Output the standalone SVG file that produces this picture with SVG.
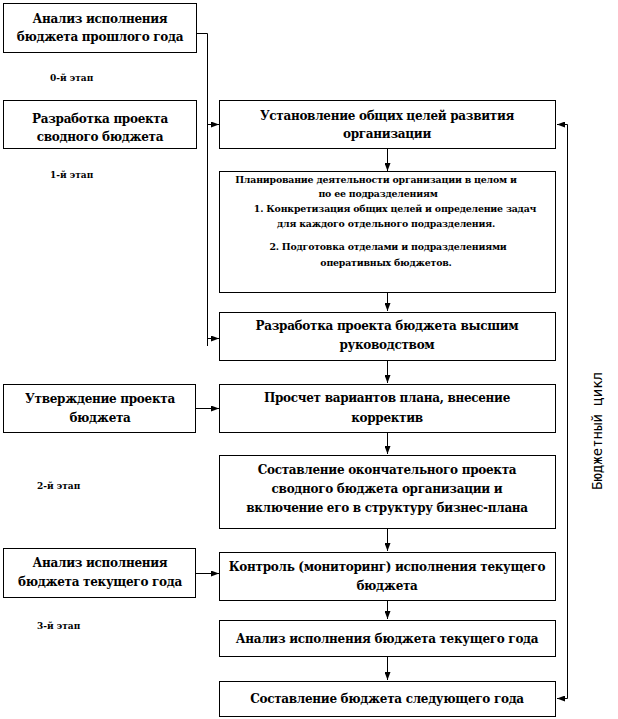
<svg xmlns="http://www.w3.org/2000/svg" width="618" height="719" viewBox="0 0 618 719">
<style>
.box{fill:#fff;stroke:#000;stroke-width:1}
.t{font-family:"DejaVu Serif",serif;font-weight:bold;font-size:12px;fill:#000;text-anchor:middle;letter-spacing:-0.3px}
.s{font-family:"DejaVu Serif",serif;font-weight:bold;font-size:9.4px;fill:#000;text-anchor:middle;letter-spacing:-0.2px}
.st{font-family:"DejaVu Serif",serif;font-weight:bold;font-size:9px;fill:#000}
.c{fill:none;stroke:#000;stroke-width:1}
.cy{font-family:"DejaVu Sans Mono",monospace;font-size:14px;fill:#000;text-anchor:middle}
</style>
<defs>
<marker id="ar" viewBox="0 0 8 6" refX="8" refY="3" markerWidth="8" markerHeight="6" markerUnits="userSpaceOnUse" orient="auto-start-reverse">
<path d="M0,0 L8,3 L0,6 z" fill="#000"/>
</marker>
</defs>
<rect width="618" height="719" fill="#fff"/>

<g id="connectors">
<path class="c" d="M196.5,33.5 H207.5 V346"/>
<path class="c" d="M207.5,124.5 H219" marker-end="url(#ar)"/>
<path class="c" d="M207.5,338.5 H219" marker-end="url(#ar)"/>
<path class="c" d="M196,408.5 H219" marker-end="url(#ar)"/>
<path class="c" d="M196,573.5 H219" marker-end="url(#ar)"/>
<path class="c" d="M387.5,148 V171" marker-end="url(#ar)"/>
<path class="c" d="M387.5,292 V311" marker-end="url(#ar)"/>
<path class="c" d="M387.5,360 V383" marker-end="url(#ar)"/>
<path class="c" d="M387.5,432 V454" marker-end="url(#ar)"/>
<path class="c" d="M387.5,528 V551" marker-end="url(#ar)"/>
<path class="c" d="M387.5,600 V619" marker-end="url(#ar)"/>
<path class="c" d="M387.5,656 V680" marker-end="url(#ar)"/>
<path class="c" d="M557,698.5 H567.5 V124.5 H557" marker-start="url(#ar)" marker-end="url(#ar)"/>
</g>

<g id="n-prev">
<rect class="box" x="3.5" y="3.5" width="193" height="49"/>
<text class="t" x="100" y="23">Анализ исполнения</text>
<text class="t" x="100" y="41">бюджета прошлого года</text>
</g>
<g id="n-draft">
<rect class="box" x="3.5" y="100.5" width="193" height="48"/>
<text class="t" x="100" y="123">Разработка проекта</text>
<text class="t" x="100" y="141">сводного бюджета</text>
</g>
<g id="n-approve">
<rect class="box" x="3.5" y="384.5" width="192" height="48"/>
<text class="t" x="100" y="403">Утверждение проекта</text>
<text class="t" x="100" y="422">бюджета</text>
</g>
<g id="n-curanalysis">
<rect class="box" x="3.5" y="548.5" width="192" height="49"/>
<text class="t" x="100" y="567">Анализ исполнения</text>
<text class="t" x="100" y="586">бюджета текущего  года</text>
</g>

<g id="stages">
<text class="st" x="50" y="81">0-й этап</text>
<text class="st" x="50" y="178">1-й этап</text>
<text class="st" x="37" y="489">2-й этап</text>
<text class="st" x="37" y="629">3-й этап</text>
</g>

<g id="n1">
<rect class="box" x="219.5" y="100.5" width="336" height="48"/>
<text class="t" x="387" y="120">Установление общих целей развития</text>
<text class="t" x="387" y="138">организации</text>
</g>
<g id="n2">
<rect class="box" x="219.5" y="171.5" width="336" height="121"/>
<text class="s" x="376" y="183">Планирование  деятельности  организации в целом и</text>
<text class="s" x="378" y="197">по ее подразделениям</text>
<text class="s" x="395" y="212">1. Конкретизация  общих целей и определение  задач</text>
<text class="s" x="386" y="227">для каждого отдельного  подразделения.</text>
<text class="s" x="388" y="250">2. Подготовка  отделами и подразделениями</text>
<text class="s" x="386" y="266">оперативных  бюджетов.</text>
</g>
<g id="n3">
<rect class="box" x="219.5" y="312.5" width="336" height="48"/>
<text class="t" x="387" y="330">Разработка проекта бюджета высшим</text>
<text class="t" x="387" y="349">руководством</text>
</g>
<g id="n4">
<rect class="box" x="219.5" y="384.5" width="336" height="48"/>
<text class="t" x="387" y="402">Просчет вариантов плана, внесение</text>
<text class="t" x="387" y="422">корректив</text>
</g>
<g id="n5">
<rect class="box" x="219.5" y="455.5" width="336" height="73"/>
<text class="t" x="387" y="474">Составление окончательного проекта</text>
<text class="t" x="387" y="493">сводного бюджета организации и</text>
<text class="t" x="387" y="512">включение его в структуру  бизнес-плана</text>
</g>
<g id="n6">
<rect class="box" x="219.5" y="552.5" width="336" height="48"/>
<text class="t" x="387" y="571">Контроль (мониторинг) исполнения текущего</text>
<text class="t" x="387" y="590">бюджета</text>
</g>
<g id="n7">
<rect class="box" x="219.5" y="620.5" width="336" height="36"/>
<text class="t" x="387" y="643">Анализ исполнения бюджета текущего  года</text>
</g>
<g id="n8">
<rect class="box" x="219.5" y="681.5" width="336" height="35"/>
<text class="t" x="387" y="703">Составление бюджета следующего  года</text>
</g>

<g id="cycle-label">
<text class="cy" transform="translate(602,431) rotate(-90)">Бюджетный цикл</text>
</g>
</svg>
